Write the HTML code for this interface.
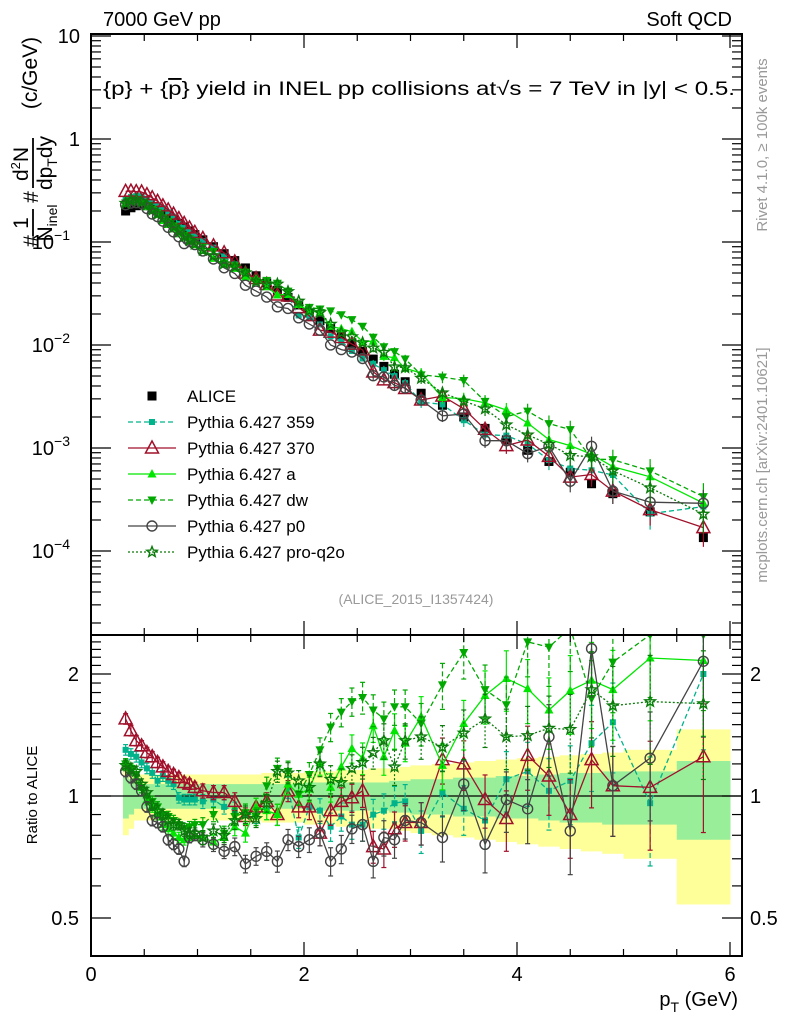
<!DOCTYPE html>
<html><head><meta charset="utf-8"><style>
html,body{margin:0;padding:0;background:#fff;}
svg{display:block;font-family:"Liberation Sans",sans-serif;}
</style></head><body>
<svg id="c" width="786" height="1024" viewBox="0 0 786 1024"></svg>
<script>
const pT=[0.325,0.375,0.425,0.475,0.525,0.575,0.625,0.675,0.725,0.775,0.825,0.875,0.925,0.975,
1.05,1.15,1.25,1.35,1.45,1.55,1.65,1.75,1.85,1.95,
2.05,2.15,2.25,2.35,2.45,2.55,2.65,2.75,2.85,2.95,
3.1,3.3,3.5,3.7,3.9,4.1,4.3,4.5,4.7,4.9,5.25,5.75];
const binEdges=[0.3,0.35,0.4,0.45,0.5,0.55,0.6,0.65,0.7,0.75,0.8,0.85,0.9,0.95,1.0,
1.1,1.2,1.3,1.4,1.5,1.6,1.7,1.8,1.9,2.0,2.1,2.2,2.3,2.4,2.5,2.6,2.7,2.8,2.9,3.0,
3.2,3.4,3.6,3.8,4.0,4.2,4.4,4.6,4.8,5.0,5.5,6.0];
const alice=[0.20,0.215,0.225,0.23,0.225,0.215,0.205,0.19,0.178,0.165,0.152,0.14,0.128,0.118,
0.105,0.09,0.077,0.066,0.056,0.047,0.040,0.034,0.029,0.0245,
0.0205,0.0172,0.0145,0.0122,0.0103,0.0087,0.0073,0.0062,0.0052,0.0044,
0.0034,0.0026,0.0020,0.00155,0.0012,0.00095,0.00074,0.00058,0.00045,0.00036,0.00024,0.000135];
const errYellow=[0.2,0.17,0.13,0.13,0.13,0.13,0.13,0.13,0.13,0.13,0.13,0.13,0.13,0.13,
0.13,0.13,0.13,0.13,0.13,0.13,0.14,0.14,0.14,0.14,
0.15,0.15,0.15,0.16,0.16,0.16,0.17,0.17,0.17,0.18,
0.19,0.2,0.21,0.22,0.23,0.24,0.25,0.26,0.27,0.28,0.3,0.46];
const errGreen=[0.12,0.1,0.07,0.07,0.07,0.07,0.07,0.07,0.07,0.07,0.07,0.07,0.07,0.07,
0.07,0.07,0.07,0.07,0.07,0.07,0.07,0.07,0.07,0.07,
0.08,0.08,0.08,0.08,0.08,0.08,0.08,0.08,0.09,0.09,
0.1,0.1,0.11,0.11,0.12,0.12,0.13,0.14,0.14,0.15,0.15,0.22];
const mcErr=[0.03,0.03,0.03,0.03,0.03,0.03,0.03,0.03,0.03,0.03,0.03,0.03,0.03,0.03,
0.04,0.04,0.04,0.05,0.05,0.05,0.05,0.06,0.06,0.06,
0.07,0.07,0.08,0.08,0.08,0.09,0.09,0.1,0.1,0.1,
0.12,0.13,0.14,0.15,0.17,0.18,0.2,0.22,0.24,0.25,0.3,0.35];
const r359=[1.30,1.27,1.25,1.21,1.17,1.14,1.09,1.12,1.09,1.07,0.99,0.98,0.98,0.98,
0.97,0.98,0.94,0.92,0.9,0.9,0.92,0.9,1.05,0.79,
0.94,0.92,0.84,0.89,0.85,0.85,0.9,0.92,0.96,0.97,
0.82,1.02,0.93,0.87,1.1,1.15,1.03,1.09,1.35,1.52,0.96,2.0];
const r370=[1.55,1.45,1.37,1.33,1.28,1.25,1.21,1.18,1.15,1.13,1.11,1.08,1.07,1.05,
1.03,1.02,1.02,0.97,0.89,0.94,0.97,0.90,1.03,0.94,
0.94,0.81,0.92,0.97,0.99,1.03,0.75,0.74,0.83,0.86,
0.86,1.23,1.2,0.98,0.88,1.26,1.12,0.9,1.23,1.06,1.05,1.25];
const rA=[1.2,1.16,1.11,1.05,0.98,0.94,0.9,0.85,0.83,0.81,0.79,0.78,0.79,0.8,
0.79,0.77,0.79,0.84,0.81,0.94,0.92,0.9,1.07,1.01,
1.04,1.21,1.05,1.18,1.31,1.24,1.49,1.25,1.45,1.35,
1.57,1.19,1.51,1.77,1.95,1.84,1.63,1.82,1.93,1.83,2.19,2.16];
const rDW=[1.2,1.17,1.13,1.05,1.0,0.97,0.94,0.9,0.89,0.87,0.85,0.83,0.84,0.85,
0.85,0.9,0.81,0.89,0.91,0.89,1.06,1.17,1.15,1.01,
1.13,1.3,1.48,1.61,1.71,1.75,1.63,1.55,1.66,1.66,
1.51,1.88,2.26,1.83,1.68,2.4,2.33,2.6,1.74,2.14,2.5,2.5];
const rP0=[1.15,1.11,1.07,1.03,0.94,0.87,0.86,0.84,0.78,0.76,0.74,0.69,0.79,0.8,
0.78,0.76,0.73,0.75,0.68,0.71,0.73,0.69,0.78,0.75,
0.78,0.81,0.69,0.74,0.83,0.85,0.69,0.79,0.78,0.87,
0.86,0.79,1.07,0.76,0.98,0.93,1.4,0.82,2.31,1.06,1.24,2.15];
const rPQ=[1.19,1.17,1.15,1.07,1.02,0.95,0.92,0.9,0.87,0.85,0.85,0.82,0.81,0.81,
0.79,0.82,0.8,0.87,0.9,0.88,0.96,1.15,1.14,1.09,
1.05,1.2,1.1,1.08,1.17,1.21,1.28,1.37,1.18,1.37,
1.4,1.32,1.43,1.55,1.4,1.41,1.47,1.46,1.83,1.67,1.71,1.69];
const xTicks=[0,2,4,6];
const series=[
 {name:"Pythia 6.427 359",key:"p359",r:r359,col:"#00b38a",dash:"5,3",mk:"sq"},
 {name:"Pythia 6.427 370",key:"p370",r:r370,col:"#a0102a",dash:"",mk:"tri"},
 {name:"Pythia 6.427 a",key:"pa",r:rA,col:"#00e600",dash:"",mk:"ftri"},
 {name:"Pythia 6.427 dw",key:"pdw",r:rDW,col:"#00a800",dash:"5,3",mk:"dtri"},
 {name:"Pythia 6.427 p0",key:"pp0",r:rP0,col:"#444444",dash:"",mk:"circ"},
 {name:"Pythia 6.427 pro-q2o",key:"ppq",r:rPQ,col:"#0a7a0a",dash:"2,2",mk:"star"}
];
const NS="http://www.w3.org/2000/svg";
const svg=document.getElementById('c');
function el(t,a,p){const e=document.createElementNS(NS,t);for(const k in a)e.setAttribute(k,a[k]);(p||svg).appendChild(e);return e;}
const L=91,R=742,T=34,M=635,B=956;
const X=p=>L+p*106.5;
const YM=v=>36+(1-Math.log10(v))*103;
const YR=r=>796-Math.log2(r)*122;
const clipM=el('clipPath',{id:'cm'});el('rect',{x:L,y:T,width:R-L,height:M-T},clipM);
const clipR=el('clipPath',{id:'cr'});el('rect',{x:L,y:M,width:R-L,height:B-M},clipR);

const gb=el('g',{'clip-path':'url(#cr)'});

for(let i=0;i<pT.length;i++){
 const x0=X(binEdges[i]),x1=X(binEdges[i+1]);
 const y=el('rect',{x:x0,y:YR(1+errYellow[i]),width:x1-x0+0.5,height:YR(1-errYellow[i])-YR(1+errYellow[i]),fill:'#ffff99'},gb);
 
}
for(let i=0;i<pT.length;i++){
 const x0=X(binEdges[i]),x1=X(binEdges[i+1]);
 const g=el('rect',{x:x0,y:YR(1+errGreen[i]),width:x1-x0+0.5,height:YR(1-errGreen[i])-YR(1+errGreen[i]),fill:'#99ee99'},gb);
 
}
const one=el('line',{x1:L,x2:R,y1:YR(1),y2:YR(1),stroke:'#000','stroke-width':1.2});


function marker(g,mk,x,y,col,s){
 s=s||1;let m;
 if(mk==='sq')m=el('rect',{x:x-3*s,y:y-3*s,width:6*s,height:6*s,fill:col},g);
 else if(mk==='bsq')m=el('rect',{x:x-4.5,y:y-4.5,width:9,height:9,fill:'#000'},g);
 else if(mk==='tri')m=el('polygon',{points:`${x},${y-7*s} ${x-6.5*s},${y+5*s} ${x+6.5*s},${y+5*s}`,fill:'none',stroke:col,'stroke-width':1.5},g);
 else if(mk==='ftri')m=el('polygon',{points:`${x},${y-5*s} ${x-4.5*s},${y+3.5*s} ${x+4.5*s},${y+3.5*s}`,fill:col},g);
 else if(mk==='dtri')m=el('polygon',{points:`${x},${y+5*s} ${x-4.5*s},${y-3.5*s} ${x+4.5*s},${y-3.5*s}`,fill:col},g);
 else if(mk==='circ')m=el('circle',{cx:x,cy:y,r:5*s,fill:'none',stroke:col,'stroke-width':1.4},g);
 else {let pts=[];for(let k=0;k<10;k++){const a=-Math.PI/2+k*Math.PI/5,rr=(k%2?2.3:5.5)*s;pts.push((x+rr*Math.cos(a)).toFixed(1)+','+(y+rr*Math.sin(a)).toFixed(1));}
  m=el('polygon',{points:pts.join(' '),fill:'none',stroke:col,'stroke-width':1.4},g);}
 return m;
}

const ga=el('g',{'clip-path':'url(#cm)'});

for(let i=0;i<pT.length;i++){
 const m=marker(ga,'bsq',X(pT[i]),YM(alice[i]),'#000');
 
}
series.forEach(s=>{
 const gm=el('g',{'clip-path':'url(#cm)'});
 
 const gr=el('g',{'clip-path':'url(#cr)'});
 
 const pm=[],pr=[];
 for(let i=0;i<pT.length;i++){
  const v=alice[i]*s.r[i];
  pm.push(X(pT[i]).toFixed(1)+','+YM(v).toFixed(1));
  pr.push(X(pT[i]).toFixed(1)+','+YR(s.r[i]).toFixed(1));
 }
 const lm=el('polyline',{points:pm.join(' '),fill:'none',stroke:s.col,'stroke-width':1.3,'stroke-dasharray':s.dash},gm);
 
 const lr=el('polyline',{points:pr.join(' '),fill:'none',stroke:s.col,'stroke-width':1.3,'stroke-dasharray':s.dash},gr);
 
 for(let i=0;i<pT.length;i++){
  const x=X(pT[i]),e=mcErr[i];
  const v=alice[i]*s.r[i];
  if(i>=30){const eb=el('line',{x1:x,x2:x,y1:YM(v*(1+e)),y2:YM(Math.max(v*(1-e),1e-9)),stroke:s.col,'stroke-width':1.2},gm);
   }
  const r=s.r[i];
  const er=el('line',{x1:x,x2:x,y1:YR(r*(1+e)),y2:YR(r*(1-e)),stroke:s.col,'stroke-width':1.2,'stroke-dasharray':s.dash},gr);
  
  [r*(1+e),r*(1-e)].forEach(q=>{const c=el('line',{x1:x-2.5,x2:x+2.5,y1:YR(q),y2:YR(q),stroke:s.col,'stroke-width':1.2},gr);
   });
  const mm=marker(gm,s.mk,x,YM(v),s.col);
  
  const mr=marker(gr,s.mk,x,YR(r),s.col);
  
 }
});

const f1=el('rect',{x:L,y:T,width:R-L,height:M-T,fill:'none',stroke:'#000','stroke-width':2});

const f2=el('rect',{x:L,y:M,width:R-L,height:B-M,fill:'none',stroke:'#000','stroke-width':2});


const gx=el('g',{stroke:'#000','stroke-width':1.2});

for(let k=0;k<=12;k++){const p=k*0.5,x=X(p),len=(k%4===0)?14:7;
 [[M,-1],[B,-1],[T,1],[M,1]].forEach(([y0,d])=>{el('line',{x1:x,x2:x,y1:y0,y2:y0+d*len},gx);});}
xTicks.forEach(t=>{const tx=el('text',{x:X(t),y:981,'font-size':20,'text-anchor':'middle'});tx.textContent=t;
 });
const xt=el('text',{x:738,y:1006,'font-size':20,'text-anchor':'end'});
xt.innerHTML='p<tspan font-size="14" dy="6">T</tspan><tspan dy="-6"> (GeV)</tspan>';


const gy=el('g',{stroke:'#000','stroke-width':1.2});

for(let d=-5;d<=1;d++){for(let m=1;m<=9;m++){const v=m*Math.pow(10,d),y=YM(v);if(y<T||y>M)continue;
 const len=m===1?20:10;el('line',{x1:L,x2:L+len,y1:y,y2:y},gy);el('line',{x1:R,x2:R-len,y1:y,y2:y},gy);}}
const ylabs=[[1,'10',''],[0,'1',''],[-1,'10','−1'],[-2,'10','−2'],[-3,'10','−3'],[-4,'10','−4']];
ylabs.forEach(([d,b,e])=>{const y=YM(Math.pow(10,d));
 const t=el('text',{x:e?70:80,y:y+7,'font-size':20,'text-anchor':'end'});
 t.innerHTML=b+(e?'<tspan font-size="14" dy="-9">'+e+'</tspan>':'');
 });
const gry=el('g',{stroke:'#000','stroke-width':1.2});

[0.5,0.6,0.7,0.8,0.9,1,1.1,1.2,1.3,1.4,1.5,1.6,1.7,1.8,1.9,2,2.1,2.2,2.3,2.4].forEach(v=>{const y=YR(v);
 const len=(v===0.5||v===1||v===2)?20:10;el('line',{x1:L,x2:L+len,y1:y,y2:y},gry);el('line',{x1:R,x2:R-len,y1:y,y2:y},gry);});
[[2,'2'],[1,'1'],[0.5,'0.5']].forEach(([v,s])=>{
 const a=el('text',{x:79,y:YR(v)+7,'font-size':20,'text-anchor':'end'});a.textContent=s;
 
 const b=el('text',{x:750,y:YR(v)+7,'font-size':20});b.textContent=s;
 });
const rt=el('text',{x:0,y:0,'font-size':15,'text-anchor':'middle',transform:'translate(37,795) rotate(-90)'});
rt.textContent='Ratio to ALICE';

// y axis title pieces (rotated)
function rtxt(name,bx,cy,html,fs){const t=el('text',{x:0,y:0,'font-size':fs,'text-anchor':'middle',transform:`translate(${bx},${cy}) rotate(-90)`});
 t.innerHTML=html;return t;}
rtxt('y-title-hash-1',38,241,'#',21);
rtxt('y-title-one',28,223,'1',21);
rtxt('y-title-ninel',52,223,'N<tspan font-size="14" dy="5">inel</tspan>',21);
rtxt('y-title-hash-2',38,197,'#',21);
rtxt('y-title-d2n',28,164,'d<tspan font-size="13" dy="-8">2</tspan><tspan dy="8">N</tspan>',21);
rtxt('y-title-dpt-dy',52,163,'dp<tspan font-size="14" dy="5">T</tspan><tspan dy="-5">dy</tspan>',21);
rtxt('y-title-units',37,73,'(c/GeV)',21);
[[236,209],[188,138]].forEach(([a,b])=>{const l=el('line',{x1:33,x2:33,y1:a,y2:b,stroke:'#000','stroke-width':1.8});
 });

function txt(name,x,y,s,fs,attrs){const t=el('text',Object.assign({x:x,y:y,'font-size':fs},attrs||{}));t.textContent=s;
 return t;}
txt('header-energy',103,26,'7000 GeV pp',20);
txt('header-process',732,26,'Soft QCD',20,{'text-anchor':'end'});
const ti=el('text',{x:103,y:95,'font-size':19,textLength:632,lengthAdjust:'spacingAndGlyphs'});
ti.innerHTML='{p} + {<tspan text-decoration="overline">p</tspan>} yield in INEL pp collisions at√s =  7 TeV in |y| &lt; 0.5.';

txt('analysis-id',416,604,'(ALICE_2015_I1357424)',14,{'text-anchor':'middle',fill:'#999'});
txt('rivet-label',0,0,'Rivet 4.1.0, ≥ 100k events',15,{fill:'#999','text-anchor':'middle',transform:'translate(767,145) rotate(-90)'});
txt('mcplots-label',0,0,'mcplots.cern.ch [arXiv:2401.10621]',15,{fill:'#999','text-anchor':'middle',transform:'translate(767,465) rotate(-90)'});

const lg=el('g',{});
const ly0=396;
const la=marker(lg,'bsq',152,ly0,'#000');
const lt=el('text',{x:187,y:ly0+6,'font-size':17},lg);lt.textContent='ALICE';

series.forEach((s,k)=>{const y=ly0+26*(k+1);
 const l=el('line',{x1:128,x2:176,y1:y,y2:y,stroke:s.col,'stroke-width':1.3,'stroke-dasharray':s.dash},lg);
 
 const m=marker(lg,s.mk,152,y,s.col);
 const t=el('text',{x:187,y:y+6,'font-size':17},lg);t.textContent=s.name;
 });
</script>
</body></html>
